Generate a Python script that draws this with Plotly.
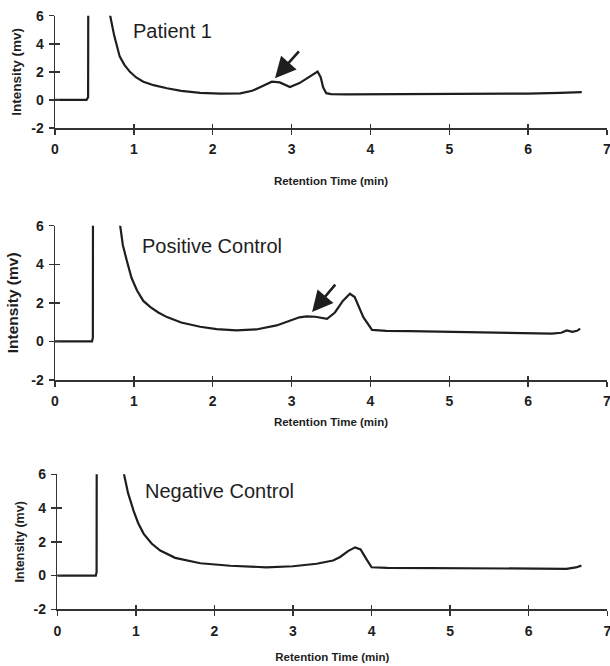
import plotly.graph_objects as go

# ---------------- data ----------------
p1_time = [0, 0.40, 0.42, 0.43, 0.55, 0.66, 0.70, 0.75, 0.82, 0.88, 0.95, 1.03, 1.12, 1.25, 1.42, 1.60,
           1.84, 2.10, 2.35, 2.50, 2.62, 2.75, 2.85, 2.98, 3.10, 3.20, 3.28, 3.33, 3.37, 3.40, 3.44,
           3.50, 3.70, 4.00, 4.50, 5.00, 5.50, 6.00, 6.40, 6.68]
p1_int = [0, 0, 0.2, 40, 20, 7.5, 6.0, 4.6, 3.1, 2.5, 2.0, 1.6, 1.3, 1.05, 0.83, 0.65,
          0.50, 0.45, 0.47, 0.65, 0.95, 1.30, 1.25, 0.92, 1.20, 1.55, 1.85, 2.02, 1.60, 0.90, 0.48,
          0.42, 0.40, 0.40, 0.40, 0.42, 0.42, 0.45, 0.50, 0.55]

p2_time = [0, 0.47, 0.48, 0.49, 0.60, 0.75, 0.82, 0.86, 0.91, 0.97, 1.04, 1.12, 1.21, 1.31, 1.42, 1.60,
           1.84, 2.05, 2.30, 2.55, 2.81, 3.00, 3.10, 3.19, 3.30, 3.45, 3.55, 3.65, 3.74, 3.80, 3.91,
           4.02, 4.20, 4.50, 5.00, 5.50, 6.00, 6.30, 6.42, 6.49, 6.56, 6.62, 6.66]
p2_int = [0, 0, 0.2, 40, 25, 9, 6.2, 5.0, 4.2, 3.3, 2.64, 2.1, 1.78, 1.5, 1.26, 0.98,
          0.76, 0.64, 0.57, 0.62, 0.83, 1.10, 1.25, 1.30, 1.28, 1.17, 1.50, 2.10, 2.47, 2.30, 1.26,
          0.60, 0.55, 0.53, 0.50, 0.48, 0.45, 0.40, 0.45, 0.57, 0.50, 0.55, 0.66]

p3_time = [0, 0.49, 0.50, 0.51, 0.65, 0.80, 0.84, 0.90, 0.97, 1.03, 1.10, 1.20, 1.31, 1.50, 1.82,
           2.20, 2.66, 3.00, 3.30, 3.51, 3.60, 3.70, 3.79, 3.86, 3.93, 4.00, 4.20, 4.60, 5.21,
           5.80, 6.30, 6.48, 6.60, 6.67]
p3_int = [0, 0, 0.2, 40, 20, 7.5, 6.2, 4.9, 3.85, 3.1, 2.47, 1.9, 1.48, 1.05, 0.73,
          0.58, 0.49, 0.55, 0.70, 0.89, 1.10, 1.45, 1.67, 1.55, 1.00, 0.49, 0.46, 0.45, 0.45,
          0.43, 0.41, 0.40, 0.48, 0.59]

panel_titles = ["Patient 1", "Positive Control", "Negative Control"]
# arrow (tail -> tip) in data coordinates for panels 1 and 2
arrow1 = dict(tail=(3.11, 3.57), tip=(2.79, 1.55))
arrow2 = dict(tail=(3.57, 3.02), tip=(3.26, 1.52))

x_ticks = [0, 1, 2, 3, 4, 5, 6, 7]
y_ticks = [-2, 0, 2, 4, 6]
y_tick_text = ["-2", "0", "2", "4", "6"]
x_title = "Retention Time (min)"
y_title = "Intensity (mv)"

# ---------------- layout ----------------
W, H = 610, 666
INK = "#1e1e1e"
AX = "#333333"
FONT = "Liberation Sans, Arial, sans-serif"

# pixel geometry of each panel: (left, right, top(y=6), bottom(y=-2))
panels = [
    (55, 607, 15.7, 128),
    (55, 607, 225.7, 380),
    (57.3, 607.3, 474.3, 609.3),
]
title_pos = [(0.97, 4.88), (1.08, 4.97), (1.09, 5.03)]
ytitle_size = [13.5, 15.5, 12.5]
ytitle_standoff = [6, 9, 6]
xtitle_standoff = [20, 9, 15]

series = [(p1_time, p1_int), (p2_time, p2_int), (p3_time, p3_int)]

fig = go.Figure()
layout = dict(
    template="none",
    width=W, height=H, margin=dict(l=0, r=0, t=0, b=0, pad=0, autoexpand=False),
    paper_bgcolor="white", plot_bgcolor="white", showlegend=False,
    font=dict(family=FONT, color=INK),
)
annotations = []

for i, ((t, v), (l, r, top, bot)) in enumerate(zip(series, panels)):
    k = i + 1
    xa = "x" if k == 1 else f"x{k}"
    ya = "y" if k == 1 else f"y{k}"
    ox = k + 3
    fig.add_trace(go.Scatter(x=t, y=v, mode="lines", xaxis=xa, yaxis=ya,
                             line=dict(color=INK, width=2.2), hoverinfo="skip"))
    # empty traces so that the overlay axes (inner halves of the tick marks) get drawn
    fig.add_trace(go.Scatter(x=[], y=[], mode="lines", xaxis=f"x{ox}", yaxis=ya, hoverinfo="skip"))
    fig.add_trace(go.Scatter(x=[], y=[], mode="lines", xaxis=xa, yaxis=f"y{ox}", hoverinfo="skip"))
    xdom = [l / W, r / W]
    ydom = [1 - bot / H, 1 - top / H]
    xkey = "xaxis" if k == 1 else f"xaxis{k}"
    ykey = "yaxis" if k == 1 else f"yaxis{k}"
    layout[xkey] = dict(
        domain=xdom, anchor=ya, range=[0, 7], tickvals=x_ticks, automargin=False,
        ticks="outside", ticklen=5, tickwidth=1.5, tickcolor=AX,
        showline=True, linecolor=AX, linewidth=1.5, showgrid=False, zeroline=False,
        tickfont=dict(size=14, family=FONT, color=INK, weight="bold"),
        ticklabelstandoff=3, ticklabeloverflow="allow",
        title=dict(text=x_title, font=dict(size=11.5, family=FONT, color=INK, weight="bold"),
                   standoff=xtitle_standoff[i]),
    )
    layout[ykey] = dict(
        domain=ydom, anchor=xa, range=[-2, 6], tickvals=y_ticks, ticktext=y_tick_text,
        automargin=False,
        ticks="outside", ticklen=5, tickwidth=1.5, tickcolor=AX,
        showline=True, linecolor=AX, linewidth=1.5, showgrid=False, zeroline=False,
        tickfont=dict(size=14, family=FONT, color=INK, weight="bold"),
        ticklabelstandoff=2, ticklabeloverflow="allow",
        title=dict(text=y_title, font=dict(size=ytitle_size[i], family=FONT, color=INK, weight="bold"),
                   standoff=ytitle_standoff[i]),
    )
    layout[f"xaxis{ox}"] = dict(
        domain=xdom, anchor=ya, overlaying=xa, side="bottom", range=[0, 7], tickvals=x_ticks,
        automargin=False, ticks="inside", ticklen=4, tickwidth=1.5, tickcolor=AX,
        showticklabels=False, showline=False, showgrid=False, zeroline=False,
    )
    layout[f"yaxis{ox}"] = dict(
        domain=ydom, anchor=xa, overlaying=ya, side="left", range=[-2, 6], tickvals=y_ticks,
        automargin=False, ticks="inside", ticklen=5, tickwidth=1.5, tickcolor=AX,
        showticklabels=False, showline=False, showgrid=False, zeroline=False,
    )
    tx, ty = title_pos[i]
    annotations.append(dict(
        text=panel_titles[i], x=tx, y=ty, xref=xa, yref=ya, xanchor="left", yanchor="middle",
        showarrow=False, font=dict(size=20, family=FONT, color=INK),
    ))

for k, arr in ((1, arrow1), (2, arrow2)):
    xa = "x" if k == 1 else f"x{k}"
    ya = "y" if k == 1 else f"y{k}"
    annotations.append(dict(
        x=arr["tip"][0], y=arr["tip"][1], ax=arr["tail"][0], ay=arr["tail"][1],
        xref=xa, yref=ya, axref=xa, ayref=ya, text="", showarrow=True,
        arrowhead=2, arrowsize=1.6, arrowwidth=2.6, arrowcolor=INK,
    ))

layout["annotations"] = annotations
fig.update_layout(**layout)
fig.write_html(
    "out.html",
    config={"displayModeBar": False, "staticPlot": True},
    post_script="document.body.style.margin='0';document.body.style.overflow='hidden';",
)
